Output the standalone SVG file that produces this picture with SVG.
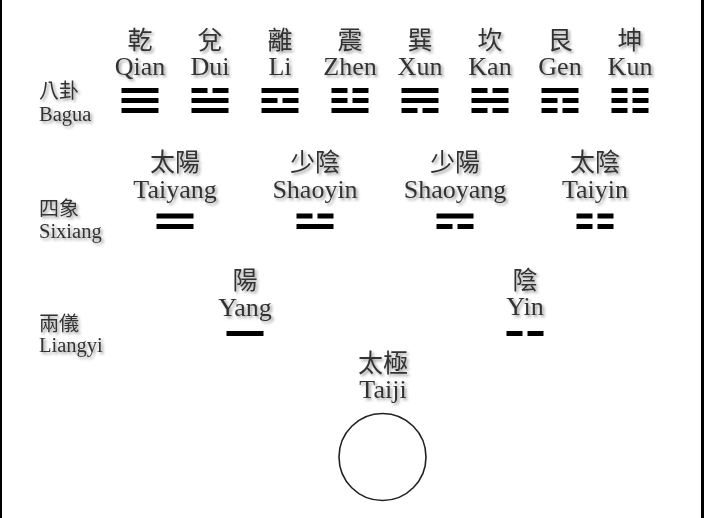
<svg xmlns="http://www.w3.org/2000/svg" xmlns:xlink="http://www.w3.org/1999/xlink" width="704" height="518" viewBox="0 0 704 518">
<style>
.zh{font-family:"Noto Sans CJK TC","Noto Sans CJK SC",sans-serif;font-size:25px;fill:#333;text-anchor:middle;filter:url(#sh)}
.en{font-family:"Liberation Serif","Times New Roman",serif;font-size:26px;fill:#333;text-anchor:middle;filter:url(#sh)}
.szh{font-family:"Noto Sans CJK TC","Noto Sans CJK SC",sans-serif;font-size:20px;fill:#333;filter:url(#sh)}
.sen{font-family:"Liberation Serif","Times New Roman",serif;font-size:20.5px;fill:#333;filter:url(#sh)}
.ln{fill:#000}
</style>
<defs>
<filter id="sh" x="-20%" y="-30%" width="150%" height="170%">
<feGaussianBlur in="SourceAlpha" stdDeviation="1.4"/>
<feOffset dx="2" dy="2" result="b"/>
<feFlood flood-color="#000" flood-opacity="0.4"/>
<feComposite in2="b" operator="in"/>
<feMerge><feMergeNode/><feMergeNode in="SourceGraphic"/></feMerge>
</filter>
<rect id="Y" class="ln" x="-18.5" width="37" height="5"/>
<g id="N" class="ln"><rect x="-18.5" width="16" height="5"/><rect x="2.5" width="16" height="5"/></g>
</defs>
<rect width="704" height="518" fill="#fff"/>
<rect x="0" y="0" width="2" height="518" fill="#000"/>
<rect x="701" y="0" width="3" height="518" fill="#000"/>

<g id="label-bagua"><text class="szh" x="39" y="98">八卦</text><text class="sen" x="39" y="121">Bagua</text></g>
<g id="label-sixiang"><text class="szh" x="39" y="216">四象</text><text class="sen" x="39" y="238">Sixiang</text></g>
<g id="label-liangyi"><text class="szh" x="39" y="331">兩儀</text><text class="sen" x="39" y="352">Liangyi</text></g>

<g id="qian"><text class="zh" x="140" y="49">乾</text><text class="en" x="140" y="75">Qian</text><use href="#Y" x="140" y="88"/><use href="#Y" x="140" y="98"/><use href="#Y" x="140" y="108"/></g>
<g id="dui"><text class="zh" x="210" y="49">兌</text><text class="en" x="210" y="75">Dui</text><use href="#N" x="210" y="88"/><use href="#Y" x="210" y="98"/><use href="#Y" x="210" y="108"/></g>
<g id="li"><text class="zh" x="280" y="49">離</text><text class="en" x="280" y="75">Li</text><use href="#Y" x="280" y="88"/><use href="#N" x="280" y="98"/><use href="#Y" x="280" y="108"/></g>
<g id="zhen"><text class="zh" x="350" y="49">震</text><text class="en" x="350" y="75">Zhen</text><use href="#N" x="350" y="88"/><use href="#N" x="350" y="98"/><use href="#Y" x="350" y="108"/></g>
<g id="xun"><text class="zh" x="420" y="49">巽</text><text class="en" x="420" y="75">Xun</text><use href="#Y" x="420" y="88"/><use href="#Y" x="420" y="98"/><use href="#N" x="420" y="108"/></g>
<g id="kan"><text class="zh" x="490" y="49">坎</text><text class="en" x="490" y="75">Kan</text><use href="#N" x="490" y="88"/><use href="#Y" x="490" y="98"/><use href="#N" x="490" y="108"/></g>
<g id="gen"><text class="zh" x="560" y="49">艮</text><text class="en" x="560" y="75">Gen</text><use href="#Y" x="560" y="88"/><use href="#N" x="560" y="98"/><use href="#N" x="560" y="108"/></g>
<g id="kun"><text class="zh" x="630" y="49">坤</text><text class="en" x="630" y="75">Kun</text><use href="#N" x="630" y="88"/><use href="#N" x="630" y="98"/><use href="#N" x="630" y="108"/></g>

<g id="taiyang"><text class="zh" x="175" y="171">太陽</text><text class="en" x="175" y="198">Taiyang</text><use href="#Y" x="175" y="213.5"/><use href="#Y" x="175" y="224"/></g>
<g id="shaoyin"><text class="zh" x="315" y="171">少陰</text><text class="en" x="315" y="198">Shaoyin</text><use href="#N" x="315" y="213.5"/><use href="#Y" x="315" y="224"/></g>
<g id="shaoyang"><text class="zh" x="455" y="171">少陽</text><text class="en" x="455" y="198">Shaoyang</text><use href="#Y" x="455" y="213.5"/><use href="#N" x="455" y="224"/></g>
<g id="taiyin"><text class="zh" x="595" y="171">太陰</text><text class="en" x="595" y="198">Taiyin</text><use href="#N" x="595" y="213.5"/><use href="#N" x="595" y="224"/></g>

<g id="yang"><text class="zh" x="245" y="289">陽</text><text class="en" x="245" y="316">Yang</text><use href="#Y" x="245" y="331"/></g>
<g id="yin"><text class="zh" x="525" y="289">陰</text><text class="en" x="525" y="315">Yin</text><use href="#N" x="525" y="331"/></g>

<g id="taiji"><text class="zh" x="383" y="372">太極</text><text class="en" x="383" y="398">Taiji</text><circle cx="382.5" cy="457" r="43.5" fill="none" stroke="#222" stroke-width="1.6"/></g>
<g id="connectors"/>
</svg>
